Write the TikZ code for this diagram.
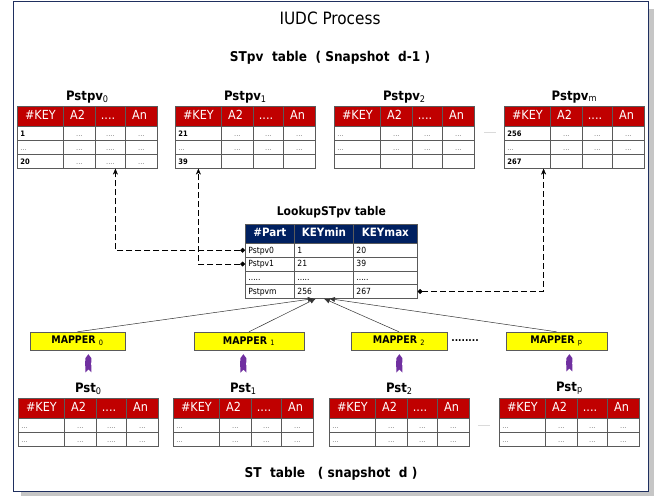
\documentclass[tikz,border=0pt]{standalone}
\usepackage{fontspec}
\setmainfont{DejaVu Sans Condensed}
\usetikzlibrary{matrix,positioning,arrows.meta}
\definecolor{hdred}{RGB}{192,0,0}
\definecolor{lknavy}{RGB}{0,32,96}
\definecolor{mapyel}{RGB}{255,255,0}
\definecolor{purp}{RGB}{112,48,160}
\definecolor{framec}{RGB}{31,47,95}
\definecolor{gridc}{RGB}{90,90,90}
\newcommand\kv[1]{{\color{black}\bfseries #1}}
\newcommand\sub[1]{\textsubscript{\mdseries #1}}
\tikzset{
  cell/.style={draw=gridc, anchor=center, inner xsep=3pt, inner ysep=0pt, minimum height=14pt,
    text height=0.75em, text depth=0.2em, font=\fontsize{7.5}{8}\selectfont, text=gray},
  ptab/.style={matrix of nodes, nodes in empty cells, inner sep=0pt,
    column sep=-\pgflinewidth, row sep=-\pgflinewidth, nodes={cell},
    column 1/.style={nodes={minimum width=46pt, text width=40pt, align=left}},
    column 2/.style={nodes={minimum width=32pt}},
    column 3/.style={nodes={minimum width=30pt}},
    column 4/.style={nodes={minimum width=32pt}},
    row 1/.style={nodes={fill=hdred, text=white, minimum height=20pt, align=center,
      font=\fontsize{12.5}{13}\selectfont}}},
  ltab/.style={matrix of nodes, nodes in empty cells, inner sep=0pt,
    column sep=-\pgflinewidth, row sep=-\pgflinewidth,
    nodes={cell, text=black, minimum height=13.75pt, align=left, font=\fontsize{8.5}{9}\selectfont},
    column 1/.style={nodes={text width=43pt}},
    column 2/.style={nodes={text width=53pt}},
    column 3/.style={nodes={text width=58pt}},
    row 1/.style={nodes={fill=lknavy, text=white, minimum height=19pt, align=center,
      font=\fontsize{11.5}{12}\selectfont\bfseries}}},
  tlbl/.style={inner sep=0pt, font=\fontsize{13}{14}\selectfont\bfseries},
  mapper/.style={draw=gridc, fill=mapyel, minimum height=18pt, inner sep=0pt,
    font=\fontsize{10.5}{11}\selectfont\bfseries},
  dconn/.style={dash pattern=on 6pt off 3pt, {Diamond[length=5pt,width=5pt]}-{Stealth[length=6pt,width=5pt]}},
  mconn/.style={draw=black!80, line width=0.5pt, -{Latex[length=6pt,width=5pt]}},
  parrow/.style={draw=purp, line width=6pt, {Triangle Cap[reversed]}-{Triangle Cap[length=4pt]}}
}
\begin{document}
\begin{tikzpicture}[x=1pt,y=-1pt]
\useasboundingbox (0,0) rectangle (654,496);
\fill[gray!45] (21,9) rectangle (654,496);
\draw[framec, fill=white, line width=0.8pt] (13,1) rectangle (648,491);

\node[font=\fontsize{17}{18}\selectfont] (title) at (330,18) {IUDC Process};
\node[font=\fontsize{13.5}{14}\selectfont\bfseries] (stpv) at (330,58) {STpv\ \ table\ \ ( Snapshot\ \ d-1 )};
\node[font=\fontsize{13.5}{14}\selectfont\bfseries] (st) at (331,474) {ST\ \ table\ \ \ ( snapshot\ \ d )};

% snapshot d-1
\matrix[ptab, anchor=north west] (pv0) at (17,106) {
  \#KEY & A2 & .... & An \\
  \kv{1} & ... & .... & ... \\
  ... & ... & .... & ... \\
  \kv{20} & ... & .... & ... \\
};
\matrix[ptab, anchor=north west] (pv1) at (175,106) {
  \#KEY & A2 & .... & An \\
  \kv{21} & ... & ... & ... \\
  ... & ... & ... & ... \\
  \kv{39} & & & \\
};
\matrix[ptab, anchor=north west] (pv2) at (334,106) {
  \#KEY & A2 & .... & An \\
  ... & ... & ... & ... \\
  ... & ... & ... & ... \\
   & & & \\
};
\matrix[ptab, anchor=north west] (pvm) at (504,106) {
  \#KEY & A2 & .... & An \\
  \kv{256} & ... & ... & ... \\
  ... & ... & ... & ... \\
  \kv{267} & & & \\
};
\node[tlbl, above=3pt of pv0] (lpv0) {Pstpv\sub{0}};
\node[tlbl, above=3pt of pv1] (lpv1) {Pstpv\sub{1}};
\node[tlbl, above=3pt of pv2] (lpv2) {Pstpv\sub{2}};
\node[tlbl, above=3pt of pvm] (lpvm) {Pstpv\sub{m}};
\node[text=gray, font=\fontsize{7}{8}\selectfont] (dtop) at (490,133) {......};

% lookup
\matrix[ltab, anchor=north west] (lk) at (245,224) {
  \#Part & KEYmin & KEYmax \\
  Pstpv0 & 1 & 20 \\
  Pstpv1 & 21 & 39 \\
  ..... & ..... & ..... \\
  Pstpvm & 256 & 267 \\
};
\node[font=\fontsize{12}{13}\selectfont\bfseries, above=2pt of lk] (llk) {LookupSTpv table};

\draw[dconn] (lk-2-1.west) -| ([xshift=5pt]pv0-4-3.south);
\draw[dconn] (lk-3-1.west) -| (pv1-4-1.south);
\draw[dconn] (lk-5-3.east) -| ([xshift=-7pt]pvm-4-1.south east);

% mappers
\node[mapper, minimum width=95pt] (map0) at (77.5,341) {MAPPER \sub{0}};
\node[mapper, minimum width=110pt] (map1) at (249,341) {MAPPER \sub{1}};
\node[mapper, minimum width=96pt] (map2) at (399,341) {MAPPER \sub{2}};
\node[mapper, minimum width=101pt] (mapp) at (556.5,341) {MAPPER \sub{p}};
\node[font=\fontsize{10}{11}\selectfont\bfseries] (dmap) at (465,341) {........};

\draw[mconn] (map0.north) -- ([xshift=-10pt]lk-5-2.south);
\draw[mconn] (map1.north) -- ([xshift=-8pt]lk-5-2.south);
\draw[mconn] (map2.north) -- (lk-5-2.south);
\draw[mconn] (mapp.north) -- ([xshift=5pt]lk-5-2.south);

% snapshot d
\matrix[ptab, anchor=north west] (st0) at (18,398) {
  \#KEY & A2 & .... & An \\
  ... & ... & .... & ... \\
  ... & ... & .... & ... \\
};
\matrix[ptab, anchor=north west] (st1) at (173,398) {
  \#KEY & A2 & .... & An \\
  ... & ... & ... & ... \\
  ... & ... & ... & ... \\
};
\matrix[ptab, anchor=north west] (st2) at (329,398) {
  \#KEY & A2 & .... & An \\
  ... & ... & ... & ... \\
  ... & ... & ... & ... \\
};
\matrix[ptab, anchor=north west] (stp) at (499,398) {
  \#KEY & A2 & .... & An \\
  ... & ... & ... & ... \\
  ... & ... & ... & ... \\
};
\node[tlbl, above=3pt of st0] (lst0) {Pst\sub{0}};
\node[tlbl, above=3pt of st1] (lst1) {Pst\sub{1}};
\node[tlbl, above=3pt of st2] (lst2) {Pst\sub{2}};
\node[tlbl, above=3pt of stp] (lstp) {Pst\sub{p}};
\node[text=gray, font=\fontsize{7}{8}\selectfont] (dbot) at (484,426) {......};

\draw[parrow, shorten <=10pt, shorten >=4pt] (lst0.north) -- (lst0.north |- map0.south);
\draw[parrow, shorten <=10pt, shorten >=4pt] (lst1.north) -- (lst1.north |- map1.south);
\draw[parrow, shorten <=10pt, shorten >=4pt] (lst2.north) -- (lst2.north |- map2.south);
\draw[parrow, shorten <=10pt, shorten >=4pt] (lstp.north) -- (lstp.north |- mapp.south);
\end{tikzpicture}
\end{document}
